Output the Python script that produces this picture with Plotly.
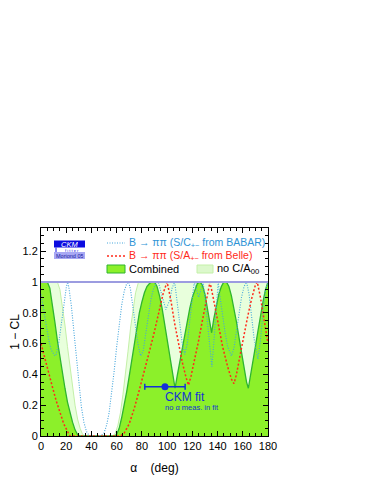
import plotly.graph_objects as go

# ---- data ----
comb_alpha = [0, 5, 7, 9, 11, 13, 15, 17, 19, 21, 23, 25, 27, 29, 31, 58, 60, 62, 64, 66, 68, 70, 72, 74, 76, 78, 80, 82, 84, 86, 88, 90,
              92, 94, 96, 98, 100, 102, 104, 106.3, 108, 110, 112, 114, 116, 118, 120, 122, 124, 126, 128, 130, 132, 134, 135.3,
              137, 139, 141, 143, 145, 147, 149, 151, 153, 155, 157, 159, 161, 163, 164.4, 166, 168, 170, 172, 174, 176, 178, 180]
comb_cl = [1, 1, 0.96, 0.86, 0.74, 0.62, 0.51, 0.41, 0.31, 0.22, 0.15, 0.09, 0.04, 0.01, 0, 0, 0.01, 0.05, 0.12, 0.2, 0.29, 0.39, 0.5, 0.61, 0.71, 0.8, 0.87, 0.93, 0.97, 0.99, 1, 1,
           0.97, 0.91, 0.83, 0.73, 0.62, 0.51, 0.41, 0.31, 0.39, 0.48, 0.57, 0.66, 0.75, 0.83, 0.9, 0.95, 0.99, 1, 0.98, 0.92, 0.83, 0.73, 0.67,
           0.76, 0.85, 0.92, 0.97, 1, 1, 0.97, 0.91, 0.83, 0.74, 0.64, 0.54, 0.44, 0.35, 0.31, 0.38, 0.48, 0.58, 0.68, 0.78, 0.87, 0.95, 1]

noc_alpha = [0, 13, 15, 17, 19, 21, 23, 25, 27, 29, 31, 33, 35, 57, 59, 61, 63, 65, 67, 69, 71, 73, 75, 77, 78, 180]
noc_cl = [1, 1, 0.95, 0.85, 0.72, 0.58, 0.44, 0.31, 0.2, 0.11, 0.05, 0.01, 0, 0, 0.02, 0.07, 0.15, 0.27, 0.4, 0.55, 0.7, 0.83, 0.93, 0.99, 1, 1]

babar_alpha = [0, 2, 4, 6, 8, 11, 12, 14, 16, 18, 20, 21, 22, 24, 26, 28, 30, 32, 34, 36, 38, 40, 45, 48, 50, 52, 54, 56, 58, 60, 62, 64, 66, 68, 69.5,
               71, 73, 75, 77, 79, 81, 83, 85, 87, 89, 91, 93, 96, 99, 102, 104, 106, 108, 110, 112, 114, 116, 118, 120, 121.5, 125, 128.5,
               130, 132, 134, 135.5, 137, 139, 140.5, 142, 144, 146, 148, 151, 153, 155, 157, 159, 161, 163, 165, 167, 169, 172, 174, 176, 178, 180]
babar_cl = [0.92, 0.82, 0.72, 0.63, 0.56, 0.52, 0.53, 0.6, 0.72, 0.85, 0.96, 1, 0.97, 0.85, 0.68, 0.5, 0.33, 0.19, 0.09, 0.03, 0.005, 0, 0, 0.005, 0.02, 0.07, 0.15, 0.27, 0.42, 0.58, 0.73, 0.85, 0.94, 0.99, 1,
            0.95, 0.83, 0.7, 0.59, 0.52, 0.55, 0.66, 0.78, 0.88, 0.95, 0.99, 1, 0.9, 0.82, 0.88, 0.96, 1, 0.86, 0.72, 0.6, 0.53, 0.6, 0.75, 0.9, 1, 0.9, 1,
            0.9, 0.72, 0.55, 0.45, 0.6, 0.85, 1, 0.9, 0.78, 0.67, 0.58, 0.52, 0.57, 0.68, 0.8, 0.9, 0.97, 1, 0.92, 0.78, 0.63, 0.5, 0.62, 0.8, 0.95, 1]

belle_alpha = [0, 3, 6, 9, 12, 15, 18, 21, 23, 63, 66, 70, 74, 78, 82, 86, 90, 94, 97, 100, 103, 106, 109, 112, 115, 117, 119, 122, 125, 128, 131, 134,
               137, 140, 144, 148, 151, 153, 155, 158, 161, 164, 167, 170, 171.5, 174, 177, 180]
belle_cl = [0.6, 0.5, 0.41, 0.32, 0.23, 0.15, 0.08, 0.03, 0, 0, 0.02, 0.08, 0.18, 0.3, 0.42, 0.55, 0.68, 0.82, 0.93, 1, 0.88, 0.73, 0.6, 0.48, 0.38, 0.33,
            0.39, 0.5, 0.62, 0.75, 0.88, 1, 0.88, 0.74, 0.58, 0.45, 0.37, 0.34, 0.4, 0.53, 0.66, 0.78, 0.89, 0.98, 1, 0.9, 0.75, 0.6]

ckm_alpha = [98.3]
ckm_cl = [0.32]
ckm_err_lo = [16.0]
ckm_err_hi = [16.0]

x_ticks = [0, 20, 40, 60, 80, 100, 120, 140, 160, 180]
y_ticks = [0, 0.2, 0.4, 0.6, 0.8, 1, 1.2]
y_tick_text = ["0", "0.2", "0.4", "0.6", "0.8", "1", "1.2"]

# ---- styles ----
GREEN = "#8cf02a"
GREEN_LINE = "#2fb52f"
LIGHT = "#e8ffdc"
LIGHT_LINE = "#c4f0a8"
BLUE = "#44a6dc"
RED = "#ff2a1a"
CKM_BLUE = "#1530d8"
FONT = "Liberation Sans, Arial, sans-serif"

fig = go.Figure()
fig.add_trace(go.Scatter(x=noc_alpha, y=noc_cl, mode="lines", fill="tozeroy", fillcolor=LIGHT,
                         line=dict(color=LIGHT_LINE, width=1), showlegend=False))
fig.add_trace(go.Scatter(x=comb_alpha, y=comb_cl, mode="lines", fill="tozeroy", fillcolor=GREEN,
                         line=dict(color=GREEN_LINE, width=1.3), showlegend=False))
fig.add_trace(go.Scatter(x=babar_alpha, y=babar_cl, mode="lines",
                         line=dict(color=BLUE, width=1.1, dash="1px,1.5px"), showlegend=False))
fig.add_trace(go.Scatter(x=belle_alpha, y=belle_cl, mode="lines",
                         line=dict(color=RED, width=1.5, dash="2px,2px"), showlegend=False))
fig.add_trace(go.Scatter(x=ckm_alpha, y=ckm_cl, mode="markers",
                         marker=dict(color=CKM_BLUE, size=7),
                         error_x=dict(type="data", symmetric=False, array=ckm_err_hi, arrayminus=ckm_err_lo,
                                      color=CKM_BLUE, thickness=1.5, width=3),
                         showlegend=False))

# line at 1-CL = 1
fig.add_shape(type="line", xref="paper", yref="y", x0=0, x1=1, y0=1, y1=1,
              line=dict(color="#9c9ce0", width=2))

# CKM fit text
fig.add_annotation(x=96.5, y=0.25, xref="x", yref="y", text="CKM fit", showarrow=False,
                   xanchor="left", font=dict(family=FONT, size=12, color=CKM_BLUE))
fig.add_annotation(x=96.5, y=0.185, xref="x", yref="y", text="no α meas. in fit", showarrow=False,
                   xanchor="left", font=dict(family=FONT, size=7.5, color=CKM_BLUE))

# ---- legend (drawn by hand), page pixel -> paper coordinates ----
def px2x(px):
    return (px - 41) / 227.0

def py2y(py):
    return (436 - py) / 208.0

fig.add_shape(type="line", xref="paper", yref="paper", x0=px2x(107), x1=px2x(125), y0=py2y(243), y1=py2y(243),
              line=dict(color=BLUE, width=1.1, dash="1px,1.5px"))
fig.add_annotation(xref="paper", yref="paper", x=px2x(127), y=py2y(243), xanchor="left", yanchor="middle",
                   text="B → ππ (S/C<sub>+−</sub> from BABAR)", showarrow=False,
                   font=dict(family=FONT, size=10.5, color="#2e94d6"))
fig.add_shape(type="line", xref="paper", yref="paper", x0=px2x(107), x1=px2x(125), y0=py2y(256), y1=py2y(256),
              line=dict(color=RED, width=1.5, dash="2px,2px"))
fig.add_annotation(xref="paper", yref="paper", x=px2x(127), y=py2y(256), xanchor="left", yanchor="middle",
                   text="B → ππ (S/A<sub>+−</sub> from Belle)", showarrow=False,
                   font=dict(family=FONT, size=10.5, color=RED))
fig.add_shape(type="rect", xref="paper", yref="paper", x0=px2x(107), x1=px2x(125), y0=py2y(273), y1=py2y(265),
              fillcolor=GREEN, line=dict(color=GREEN_LINE, width=1))
fig.add_annotation(xref="paper", yref="paper", x=px2x(127), y=py2y(269), xanchor="left", yanchor="middle",
                   text="Combined", showarrow=False, font=dict(family=FONT, size=11, color="black"))
fig.add_shape(type="rect", xref="paper", yref="paper", x0=px2x(197), x1=px2x(213), y0=py2y(273), y1=py2y(265),
              fillcolor="#dcf8cc", line=dict(color=LIGHT_LINE, width=1))
fig.add_annotation(xref="paper", yref="paper", x=px2x(215), y=py2y(269), xanchor="left", yanchor="middle",
                   text="no C/A<sub>00</sub>", showarrow=False, font=dict(family=FONT, size=11, color="black"))

# CKMfitter logo
fig.add_shape(type="rect", xref="paper", yref="paper", x0=px2x(54), x1=px2x(85), y0=py2y(247.5), y1=py2y(240.5),
              fillcolor="#0c0ce0", line=dict(width=0))
fig.add_shape(type="rect", xref="paper", yref="paper", x0=px2x(54), x1=px2x(85), y0=py2y(259), y1=py2y(252),
              fillcolor="#a8a8f4", line=dict(width=0))
fig.add_shape(type="line", xref="paper", yref="paper", x0=px2x(56), x1=px2x(56), y0=py2y(252), y1=py2y(247.5),
              line=dict(color="#0c0ce0", width=1))
fig.add_annotation(xref="paper", yref="paper", x=px2x(69.5), y=py2y(244), text="<i>CKM</i>", showarrow=False,
                   xanchor="center", yanchor="middle", height=7, font=dict(family=FONT, size=7.5, color="white"))
fig.add_annotation(xref="paper", yref="paper", x=px2x(72), y=py2y(249.8), text="f i t t e r", showarrow=False,
                   xanchor="center", yanchor="middle", height=4, font=dict(family=FONT, size=4, color="#0c0ce0"))
fig.add_annotation(xref="paper", yref="paper", x=px2x(69.5), y=py2y(255.6), text="Moriond 05", showarrow=False,
                   xanchor="center", yanchor="middle", height=6, font=dict(family=FONT, size=5.5, color="#1a1aa0"))

# the page body adds an 8px offset, so margins are set to place the plot area at page pixels x 41-268, y 228-436
fig.update_layout(
    width=374, height=484,
    margin=dict(l=33, r=114, t=220, b=56, autoexpand=False),
    paper_bgcolor="white", plot_bgcolor="white",
    font=dict(family=FONT, size=11, color="black"),
    xaxis=dict(range=[0, 180], tickvals=x_ticks, ticks="inside", ticklen=5, tickcolor="black", automargin=False,
               showline=True, linecolor="black", linewidth=1, mirror="ticks", showgrid=False, zeroline=False,
               minor=dict(ticks="inside", ticklen=3, dtick=5, tickcolor="black"),
               title=dict(text="α&nbsp;&nbsp;&nbsp;&nbsp;(deg)", font=dict(size=12), standoff=12),
               tickfont=dict(size=11)),
    yaxis=dict(range=[0, 1.35], tickvals=y_ticks, ticktext=y_tick_text, ticks="inside", ticklen=5, tickcolor="black",
               automargin=False,
               showline=True, linecolor="black", linewidth=1, mirror="ticks", showgrid=False, zeroline=False,
               minor=dict(ticks="inside", ticklen=3, dtick=0.05, tickcolor="black"),
               title=dict(text="1 − CL", font=dict(size=12), standoff=6),
               tickfont=dict(size=11)),
)

fig.write_html("out.html")
